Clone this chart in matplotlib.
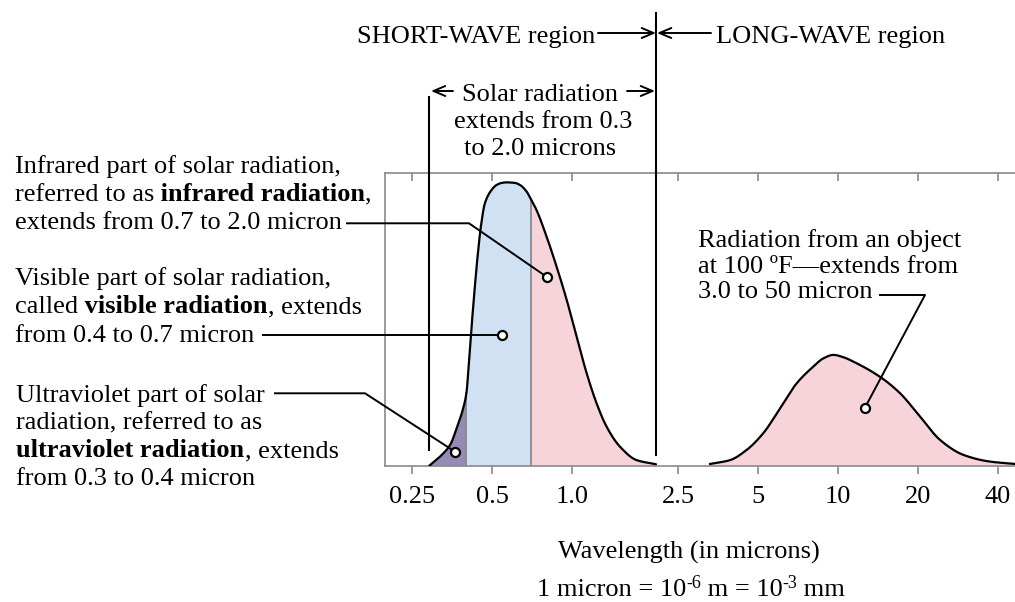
import matplotlib
matplotlib.use("Agg")
import matplotlib.pyplot as plt
from matplotlib.lines import Line2D
from matplotlib.ticker import NullLocator
from matplotlib.transforms import IdentityTransform
import numpy as np

# Solar radiation spectrum: wavelength (microns) vs relative intensity
solar_wavelength = [0.29, 0.318, 0.347, 0.369, 0.387, 0.40, 0.409, 0.418, 0.428,
                    0.439, 0.453, 0.469, 0.497, 0.519, 0.542, 0.566, 0.609, 0.636,
                    0.674, 0.70, 0.734, 0.801, 0.873, 0.953, 1.039, 1.133, 1.235,
                    1.347, 1.512, 1.747, 2.065]
solar_intensity = [0.0, 0.031, 0.071, 0.133, 0.190, 0.25, 0.361, 0.475, 0.590,
                   0.703, 0.817, 0.897, 0.943, 0.960, 0.967, 0.969, 0.967, 0.960,
                   0.937, 0.91, 0.874, 0.783, 0.681, 0.567, 0.441, 0.316, 0.213,
                   0.133, 0.065, 0.019, 0.005]

# Radiation from an object at 100 F
earth_wavelength = [3.30, 3.92, 4.53, 5.23, 6.05, 6.99, 8.07, 8.80, 9.60, 10.47,
                    11.41, 14.38, 17.10, 20.34, 24.2, 29.6, 37.3, 46.3]
earth_intensity = [0.006, 0.019, 0.054, 0.111, 0.196, 0.282, 0.339, 0.367, 0.379,
                   0.371, 0.356, 0.304, 0.248, 0.168, 0.088, 0.037, 0.014, 0.006]

tick_values = [0.25, 0.5, 1.0, 2.5, 5, 10, 20, 40]
tick_labels = ["0.25", "0.5", "1.0", "2.5", "5", "10", "20", "40"]

uv_limit = 0.4
visible_limit = 0.7
solar_start = 0.29
shortwave_limit = 2.065

# callout anchor points (wavelength, relative intensity)
uv_dot = (0.362, 0.048)
visible_dot = (0.545, 0.447)
infrared_dot = (0.801, 0.646)
earth_dot = (12.6, 0.197)

UV_COLOR = "#958bb5"
VIS_COLOR = "#cfe1f3"
IR_COLOR = "#f7d3da"
GRAY = "#8a8a8a"
FS = 19

W, H = 1015, 602
plt.rcParams["font.family"] = ["Liberation Serif", "DejaVu Serif"]


def smooth_curve(x, y, per_segment=12):
    """Monotone cubic (PCHIP) path through the points, in log-wavelength space."""
    lx = np.log10(np.asarray(x, float))
    y = np.asarray(y, float)
    h = np.diff(lx)
    d = np.diff(y) / h
    m = np.zeros_like(y)
    m[0], m[-1] = d[0], d[-1]
    for k in range(1, len(y) - 1):
        if d[k - 1] * d[k] > 0:
            w1 = 2 * h[k] + h[k - 1]
            w2 = h[k] + 2 * h[k - 1]
            m[k] = (w1 + w2) / (w1 / d[k - 1] + w2 / d[k])
    xs, ys = [], []
    for k in range(len(h)):
        t = np.linspace(0, 1, per_segment, endpoint=(k == len(h) - 1))
        h00 = 2 * t**3 - 3 * t**2 + 1
        h10 = t**3 - 2 * t**2 + t
        h01 = -2 * t**3 + 3 * t**2
        h11 = t**3 - t**2
        xs.append(lx[k] + t * h[k])
        ys.append(h00 * y[k] + h10 * h[k] * m[k] + h01 * y[k + 1] + h11 * h[k] * m[k + 1])
    return 10 ** np.concatenate(xs), np.clip(np.concatenate(ys), 0, None)


fig = plt.figure(figsize=(W / 100, H / 100), dpi=100)
ax = fig.add_axes([385.3 / W, 1 - 465.7 / H, (W - 385.3) / W, (465.7 - 173.3) / H])
ax.set_xscale("log")
XLIM = (0.198, 46.3)
ax.set_xlim(*XLIM)
ax.set_ylim(0, 1)

sw, si = smooth_curve(solar_wavelength, solar_intensity)
ew, ei = smooth_curve(earth_wavelength, earth_intensity)

eps = 1e-9
m_uv = sw <= uv_limit + eps
m_vis = (sw >= uv_limit - eps) & (sw <= visible_limit + eps)
m_ir = sw >= visible_limit - eps
ax.fill_between(sw[m_uv], 0, si[m_uv], color=UV_COLOR, lw=0, zorder=1)
ax.fill_between(sw[m_vis], 0, si[m_vis], color=VIS_COLOR, lw=0, zorder=1)
ax.fill_between(sw[m_ir], 0, si[m_ir], color=IR_COLOR, lw=0, zorder=1)
ax.fill_between(ew, 0, ei, color=IR_COLOR, lw=0, zorder=1, clip_on=False)

for b in (uv_limit, visible_limit):
    ax.plot([b, b], [0, solar_intensity[solar_wavelength.index(b)]], color=GRAY,
            lw=1.3, zorder=2)

ax.plot(sw, si, color="black", lw=1.6, zorder=3, solid_capstyle="round")
ax.plot(ew, ei, color="black", lw=1.6, zorder=3, clip_on=False)

# region boundaries
ax.plot([solar_start, solar_start], [0.054, 1.261], color="black", lw=1.5,
        clip_on=False, zorder=4)
ax.plot([shortwave_limit, shortwave_limit], [0.037, 1.549], color="black", lw=1.5,
        clip_on=False, zorder=4)

# axes frame
for side in ("left", "bottom", "top"):
    ax.spines[side].set_color(GRAY)
    ax.spines[side].set_linewidth(1.2)
ax.spines["right"].set_visible(False)
ax.set_yticks([])
ax.set_xticks(tick_values)
ax.set_xticklabels(tick_labels, fontsize=FS)
ax.xaxis.set_minor_locator(NullLocator())
ax.tick_params(axis="x", direction="out", length=5.5, width=1.2, color=GRAY, pad=9)

ax_top = ax.twiny()
ax_top.set_xscale("log")
ax_top.set_xlim(*XLIM)
ax_top.set_xticks(tick_values)
ax_top.set_xticklabels([])
ax_top.xaxis.set_minor_locator(NullLocator())
ax_top.tick_params(axis="x", direction="in", length=5.5, width=1.2, color=GRAY)
for s in ax_top.spines.values():
    s.set_visible(False)

ax.set_xlim(*XLIM)
ax.set_ylim(0, 1)

renderer = fig.canvas.get_renderer()


def text_line(x, y, runs, ha="left"):
    """Draw a line of text made of runs (text, weight[, size, rise]) at pixel x, baseline y (from top)."""
    arts = []
    for r in runs:
        s, weight = r[0], r[1]
        size = r[2] if len(r) > 2 else FS
        rise = r[3] if len(r) > 3 else 0
        t = fig.text(0, 0, s, fontsize=size, fontweight=weight, va="baseline",
                     ha="left", transform=IdentityTransform())
        arts.append((t, rise))
    widths = [t.get_window_extent(renderer).width for t, _ in arts]
    total = sum(widths)
    x0 = x - total / 2 if ha == "center" else (x - total if ha == "right" else x)
    for (t, rise), w in zip(arts, widths):
        t.set_position((x0, H - y + rise))
        x0 += w


def arrow(x0, y0, x1, y1):
    ax.annotate("", xy=(x1, H - y1), xytext=(x0, H - y0), xycoords="figure pixels",
                textcoords="figure pixels", annotation_clip=False,
                arrowprops=dict(arrowstyle="->,head_length=0.85,head_width=0.36",
                                mutation_scale=10, lw=1.4, color="black",
                                shrinkA=0, shrinkB=0))


def leader(points, dot):
    dx, dy = ax.transData.transform(dot)
    xs = [p[0] for p in points] + [dx]
    ys = [H - p[1] for p in points] + [dy]
    ax.add_line(Line2D(xs, ys, color="black", lw=1.4, transform=IdentityTransform(),
                       clip_on=False, zorder=5))
    ax.plot(*dot, marker="o", ms=6.5, mfc="white", mec="black", mew=1.6,
            clip_on=False, zorder=6)


# top region labels
text_line(595, 43.3, [("SHORT-WAVE region", "normal")], ha="right")
arrow(598, 33, 656, 33)
text_line(716, 43.3, [("LONG-WAVE region", "normal")])
arrow(711, 33, 657, 33)

text_line(540, 100.7, [("Solar radiation", "normal")], ha="center")
arrow(453, 91, 431, 91)
arrow(627, 91, 655, 91)
text_line(543, 128.3, [("extends from 0.3", "normal")], ha="center")
text_line(540, 155, [("to 2.0 microns", "normal")], ha="center")

# left callouts
LX = 15
text_line(LX, 172.7, [("Infrared part of solar radiation,", "normal")])
text_line(LX, 200.7, [("referred to as", "normal"), (" infrared radiation", "bold"), (",", "normal")])
text_line(LX, 229.3, [("extends from 0.7 to 2.0 micron", "normal")])
leader([(347, 223.3), (469, 223.3)], infrared_dot)

text_line(LX, 285, [("Visible part of solar radiation,", "normal")])
text_line(LX, 313.3, [("called", "normal"), (" visible radiation", "bold"), (", extends", "normal")])
text_line(LX, 341.7, [("from 0.4 to 0.7 micron", "normal")])
leader([(263, 335)], visible_dot)

LX2 = 16.5
text_line(LX2, 401.7, [("Ultraviolet part of solar", "normal")])
text_line(LX2, 429.3, [("radiation, referred to as", "normal")])
text_line(LX2, 457.3, [("ultraviolet radiation", "bold"), (", extends", "normal")])
text_line(LX2, 485, [("from 0.3 to 0.4 micron", "normal")])
leader([(275, 393.3), (365, 393.3)], uv_dot)

# right callout
text_line(698, 247.3, [("Radiation from an object", "normal")])
text_line(698, 273.3, [("at 100 \u00baF\u2014extends from", "normal")])
text_line(698, 298.3, [("3.0 to 50 micron", "normal")])
leader([(880, 295), (925, 295)], earth_dot)

# axis title and unit note
text_line(689, 558.3, [("Wavelength (in microns)", "normal")], ha="center")
text_line(691, 596, [("1 micron = 10", "normal"), ("-6", "normal", 13, 8),
                     (" m = 10", "normal"), ("-3", "normal", 13, 8),
                     (" mm", "normal")], ha="center")

fig.savefig("out.png", dpi=100)
